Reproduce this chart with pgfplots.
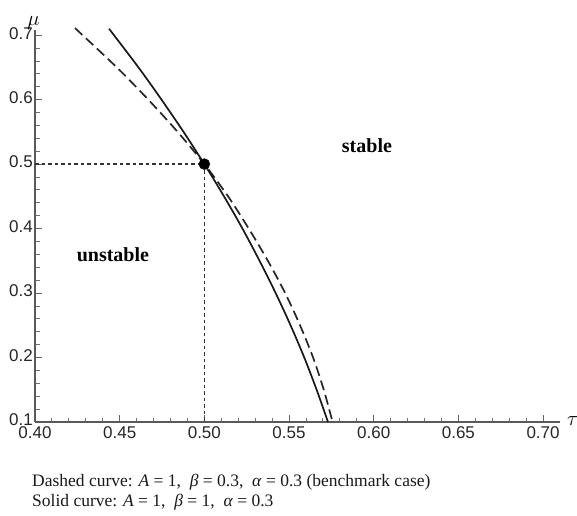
\documentclass[border=0pt]{standalone}
\usepackage{fontspec}
\setmainfont{Liberation Serif}
\newfontfamily\tickfont{Liberation Sans}
\usepackage{pgfplots}
\pgfplotsset{compat=1.18}
\begin{document}
\begin{tikzpicture}[x=1pt,y=1pt]
\path[use as bounding box] (-35,-93) rectangle (542,422);
\begin{axis}[
  at={(0,0)}, anchor=south west,
  scale only axis, width=525pt, height=392pt,
  xmin=0.4, xmax=0.71, ymin=0.1, ymax=0.708,
  axis lines=left,
  axis line style={-, draw=black!65, line width=1.1pt},
  tick align=inside,
  xtick={0.40,0.45,0.50,0.55,0.60,0.65,0.70},
  ytick={0.1,0.2,0.3,0.4,0.5,0.6,0.7},
  minor x tick num=4, minor y tick num=4,
  major tick length=7pt, minor tick length=4.5pt,
  every major tick/.style={draw=black!60, line width=1pt},
  every minor tick/.style={draw=black!55, line width=0.9pt},
  /pgf/number format/assume math mode=true,
  xticklabel style={/pgf/number format/fixed, /pgf/number format/fixed zerofill, /pgf/number format/precision=2},
  yticklabel style={/pgf/number format/fixed, /pgf/number format/fixed zerofill, /pgf/number format/precision=1},
  tick label style={font=\tickfont\fontsize{17}{17}\selectfont, text=black!85, inner sep=1pt},
  yticklabel style={xshift=-1pt, yshift=2pt},
  xticklabel style={yshift=-3pt},
  clip=false,
]
% reference lines
\addplot[black!80, line width=1.3pt, dash pattern=on 3.5pt off 3pt] coordinates {(0.4,0.5) (0.5,0.5) (0.5,0.1)};
% dashed curve: A=1, beta=0.3, alpha=0.3
\addplot[black!85, line width=1.7pt, dash pattern=on 10pt off 5pt, smooth] coordinates {
(0.4236,0.711) (0.4483,0.65) (0.4669,0.60) (0.4842,0.55) (0.5000,0.50)
(0.5140,0.45) (0.5262,0.40) (0.5375,0.35) (0.5477,0.30) (0.5565,0.25)
(0.5642,0.20) (0.5705,0.15) (0.5757,0.10)};
% solid curve: A=1, beta=1, alpha=0.3
\addplot[black!90, line width=1.7pt, smooth] coordinates {
(0.4437,0.71) (0.4611,0.65) (0.4747,0.60) (0.4877,0.55) (0.5000,0.50)
(0.5116,0.45) (0.5225,0.40) (0.5326,0.35) (0.5421,0.30) (0.5509,0.25)
(0.5590,0.20) (0.5663,0.15) (0.5730,0.10)};
% point
\addplot[only marks, mark=*, mark size=5.5pt, black] coordinates {(0.5,0.5)};
\node[font=\bfseries\fontsize{20}{20}\selectfont] at (axis cs:0.596,0.529) {stable};
\node[font=\bfseries\fontsize{20}{20}\selectfont] at (axis cs:0.446,0.359) {unstable};
\node[anchor=west, inner sep=0pt, font=\fontsize{21}{21}\selectfont] at (axis cs:0.71,0.1) {\hspace{7pt}\raisebox{2pt}{$\tau$}};
\node[anchor=south, inner sep=0pt, font=\fontsize{21}{21}\selectfont] at (axis cs:0.4,0.708) {\raisebox{3pt}{\hspace{-3pt}$\mu$}};
\end{axis}
\node[anchor=west, inner sep=0pt, font=\fontsize{17.5}{20}\selectfont, text=black!90] at (-3,-60) {Dashed curve: \textit{A} = 1,\ \ \textit{β} = 0.3,\ \ \textit{α} = 0.3 (benchmark case)};
\node[anchor=west, inner sep=0pt, font=\fontsize{17.5}{20}\selectfont, text=black!90] at (-3,-80) {Solid curve: \textit{A} = 1,\ \ \textit{β} = 1,\ \ \textit{α} = 0.3};
\end{tikzpicture}
\end{document}
